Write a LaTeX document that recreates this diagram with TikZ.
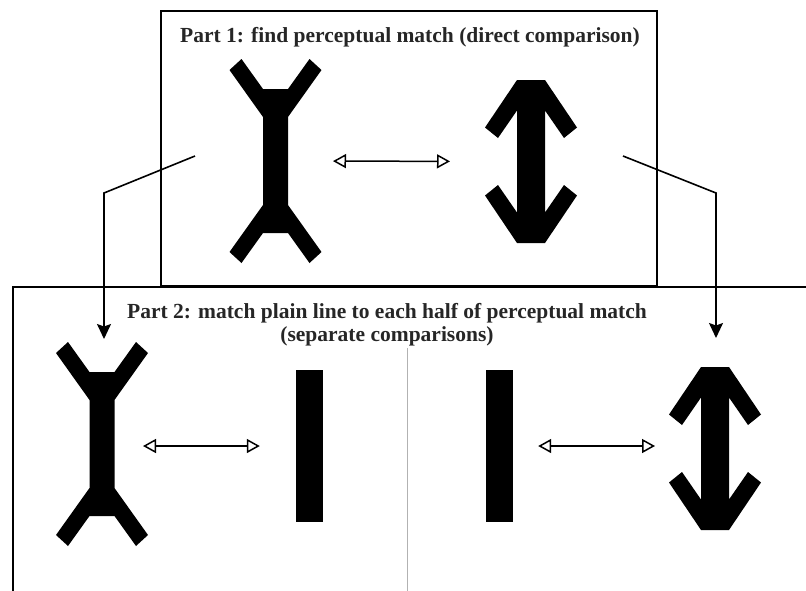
\documentclass[tikz,border=0pt]{standalone}
\usepackage{fontspec}
\setmainfont{Liberation Serif}
\usetikzlibrary{arrows.meta}
\tikzset{
  figbox/.style={inner sep=0pt, outer sep=0pt},
  forkfig/.pic={
    \fill (-34,-102) -- (-12.5,-72) -- (12.5,-72) -- (34,-102) -- (46,-91) -- (12.5,-44)
      -- (12.5,44) -- (46,91) -- (34,102) -- (12.5,72) -- (-12.5,72) -- (-34,102)
      -- (-46,91) -- (-12.5,44) -- (-12.5,-44) -- (-46,-91) -- cycle;
    \node[figbox, minimum width=25pt, minimum height=204pt] (-mid) {};
  },
  arrowfig/.pic={
    \fill (-14,-81.5) -- (14,-81.5) -- (46,-34) -- (33,-23.5) -- (14,-51) -- (14,51)
      -- (33,23.5) -- (46,34) -- (14,81.5) -- (-14,81.5) -- (-46,34) -- (-33,23.5)
      -- (-14,51) -- (-14,-51) -- (-33,-23.5) -- (-46,-34) -- cycle;
    \node[figbox, minimum width=28pt, minimum height=163pt] (-mid) {};
  },
  plainbar/.style={fill=black, inner sep=0pt, minimum width=27pt, minimum height=152pt},
  cmp/.style={{Triangle[open,length=13pt,width=14pt]}-{Triangle[open,length=13pt,width=14pt]}, line width=1.5pt},
  lead/.style={-{Stealth[length=15pt,width=14pt,inset=2.5pt]}, line width=1.6pt},
  parttitle/.style={font=\fontsize{21.5}{23}\selectfont\bfseries, text=black!85, align=center, inner sep=0pt}
}
\begin{document}
\begin{tikzpicture}[x=1pt,y=-1pt]
    \useasboundingbox (0,0) rectangle (806,590);
    \clip (0,0) rectangle (806,590);
    \draw[line width=2pt] (13,287) rectangle (830,610);
    \draw[line width=2.5pt] (161,11) rectangle (657,286);
    \draw[gray!60, line width=1pt] (407,348) -- (407,600);
    \node[parttitle, anchor=base] (title1) at (410,42.5) {Part 1: find perceptual match (direct comparison)};
    \node[parttitle, anchor=base] (title2) at (387,341) {Part 2: match plain line to each half of perceptual match\\(separate comparisons)};
    \pic (f1) at (275.5,161) {forkfig};
    \pic (a1) at (531,161.5) {arrowfig};
    \pic (f2) at (102,444) {forkfig};
    \node[plainbar] (bar1) at (309.5,446) {};
    \node[plainbar] (bar2) at (499,446) {};
    \pic (a2) at (715,448.5) {arrowfig};
    \draw[cmp, shorten <=45pt, shorten >=67pt] (f1-mid.east) -- (a1-mid.west);
    \draw[cmp, shorten <=28.5pt, shorten >=36pt] (f2-mid.east |- bar1.west) -- (bar1.west);
    \draw[cmp, shorten <=25.5pt, shorten >=46pt] (bar2.east) -- (a2-mid.west |- bar2.east);
    \coordinate (s1) at (195,156);
    \coordinate (k1) at (104,193);
    \coordinate (s2) at (623,156);
    \coordinate (k2) at (716,193);
    \draw[lead, shorten >=3pt] (s1) -- (k1) -- (k1 |- f2-mid.north);
    \draw[lead, shorten >=29pt] (s2) -- (k2) -- (k2 |- a2-mid.north);
\end{tikzpicture}
\end{document}
